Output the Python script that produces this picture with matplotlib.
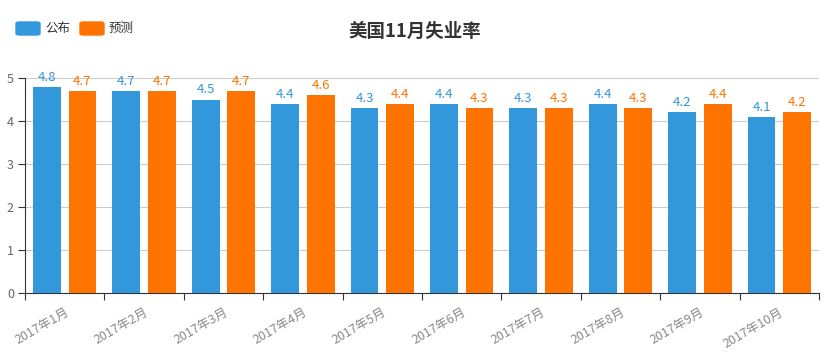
import numpy as np
import matplotlib.pyplot as plt
from matplotlib.patches import FancyBboxPatch

plt.rcParams['font.family'] = ['Noto Sans CJK SC', 'DejaVu Sans']

months = ["2017年1月", "2017年2月", "2017年3月", "2017年4月", "2017年5月",
          "2017年6月", "2017年7月", "2017年8月", "2017年9月", "2017年10月"]
published = [4.8, 4.7, 4.5, 4.4, 4.3, 4.4, 4.3, 4.4, 4.2, 4.1]
forecast = [4.7, 4.7, 4.7, 4.6, 4.4, 4.3, 4.3, 4.3, 4.4, 4.2]

blue = "#3398DB"
orange = "#FF7300"

fig = plt.figure(figsize=(8.38, 3.61), dpi=100)
ax = fig.add_axes([25/838, 68/361, 794/838, 215/361])

x = np.arange(len(months)) + 0.5
w = 0.35
b1 = ax.bar(x - 0.224, published, w, color=blue, zorder=3)
b2 = ax.bar(x + 0.224, forecast, w, color=orange, zorder=3)

for bars, vals, c in [(b1, published, blue), (b2, forecast, orange)]:
    for r, v in zip(bars, vals):
        ax.text(r.get_x() + r.get_width()/2, v + 0.07, f"{v:.1f}",
                ha="center", va="bottom", color=c, fontsize=9.5)

ax.set_xlim(0, len(months))
ax.set_ylim(0, 5)
ax.set_yticks(range(6))
ax.yaxis.grid(True, color="#cccccc", linewidth=0.8, zorder=0)
ax.set_xticks(np.arange(len(months) + 1))
ax.set_xticklabels([])
ax.set_xticks(x, minor=True)
ax.set_xticklabels(months, minor=True, rotation=30, ha="right",
                   rotation_mode="anchor", color="#888888", fontsize=9)
ax.tick_params(axis="x", which="minor", length=0, pad=9)
ax.tick_params(axis="x", which="major", length=5, color="#333333")
ax.tick_params(axis="y", length=5, color="#333333", labelcolor="#666666",
               labelsize=9, pad=3)
for s in ["top", "right"]:
    ax.spines[s].set_visible(False)
ax.spines["left"].set_color("#333333")
ax.spines["bottom"].set_color("#333333")

fig.text(415/838, 1 - 31/361, "美国11月失业率", ha="center", va="center",
         fontsize=13.3, fontweight="bold", color="#333333")

# legend
for lab, c, lx in [("公布", blue, 16), ("预测", orange, 80)]:
    p = FancyBboxPatch((lx/838, 1 - 35/361), 24/838, 13/361,
                       boxstyle="round,pad=0,rounding_size=0.004",
                       transform=fig.transFigure, color=c)
    fig.patches.append(p)
    fig.text((lx + 29)/838, 1 - 28.5/361, lab, ha="left", va="center",
             fontsize=9, color="#333333")

fig.savefig("out.png", dpi=100)
